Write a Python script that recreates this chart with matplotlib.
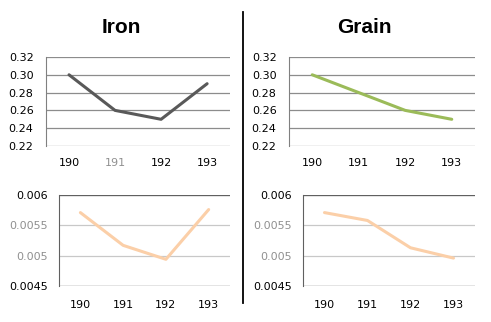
import matplotlib
matplotlib.use("Agg")
import matplotlib.pyplot as plt
from matplotlib.lines import Line2D

years = ["190", "191", "192", "193"]

iron_top = [0.30, 0.26, 0.25, 0.29]
grain_top = [0.30, 0.28, 0.26, 0.25]
iron_bottom = [0.00571, 0.00517, 0.00494, 0.00576]
grain_bottom = [0.00571, 0.00558, 0.00513, 0.00496]

top_ticks = [0.22, 0.24, 0.26, 0.28, 0.30, 0.32]
top_labels = ["0.22", "0.24", "0.26", "0.28", "0.30", "0.32"]
bottom_ticks = [0.0045, 0.005, 0.0055, 0.006]
bottom_labels = ["0.0045", "0.005", "0.0055", "0.006"]
bottom_label_colors = ["black", "#909090", "#909090", "black"]

fig = plt.figure(figsize=(4.91, 3.22), dpi=100)
fig.patch.set_facecolor("white")


def style_axes(ax, ticks, labels, grid_color, xpad, ypad):
    x = range(len(years))
    ax.set_xlim(-0.5, len(years) - 0.5)
    ax.set_ylim(ticks[0], ticks[-1])
    ax.set_xticks(list(x))
    ax.set_xticklabels(years, fontsize=8)
    ax.set_yticks(ticks)
    ax.set_yticklabels(labels, fontsize=8)
    ax.tick_params(axis="both", length=0)
    ax.tick_params(axis="x", pad=xpad)
    ax.tick_params(axis="y", pad=ypad)
    for s in ["top", "right", "bottom"]:
        ax.spines[s].set_visible(False)
    ax.spines["left"].set_color("#808080")
    for t in ticks:
        ax.axhline(t, color=grid_color, lw=0.9, zorder=0)


# top row
ax1 = fig.add_axes([0.0937, 0.5466, 0.375, 0.2764])
ax1.plot(range(len(years)), iron_top, color="#595959", lw=2.2, solid_capstyle="round")
style_axes(ax1, top_ticks, top_labels, "#8c8c8c", 9, 9)
ax1.get_xticklabels()[1].set_color("#909090")

ax2 = fig.add_axes([0.5886, 0.5466, 0.3788, 0.2764])
ax2.plot(range(len(years)), grain_top, color="#9bbb59", lw=2.2, solid_capstyle="round")
style_axes(ax2, top_ticks, top_labels, "#8c8c8c", 9, 9)

# bottom row
ax3 = fig.add_axes([0.1202, 0.1118, 0.3483, 0.2826])
ax3.plot(range(len(years)), iron_bottom, color="#fbcfa8", lw=2.2, solid_capstyle="round")
style_axes(ax3, bottom_ticks, bottom_labels, "#c8c8c8", 10, 8)

ax4 = fig.add_axes([0.6171, 0.1118, 0.3503, 0.2826])
ax4.plot(range(len(years)), grain_bottom, color="#fbcfa8", lw=2.2, solid_capstyle="round")
style_axes(ax4, bottom_ticks, bottom_labels, "#c8c8c8", 10, 8)

for ax in (ax3, ax4):
    ax.spines["left"].set_color("#606060")
    ax.axhline(bottom_ticks[0], color="#606060", lw=0.9, zorder=0)
    ax.axhline(bottom_ticks[-1], color="#606060", lw=0.9, zorder=0)
    for lab, c in zip(ax.get_yticklabels(), bottom_label_colors):
        lab.set_color(c)

fig.text(0.248, 0.916, "Iron", ha="center", va="center", fontsize=15,
         fontweight="bold", family="Liberation Sans")
fig.text(0.743, 0.916, "Grain", ha="center", va="center", fontsize=15,
         fontweight="bold", family="Liberation Sans")

fig.add_artist(Line2D([0.495, 0.495], [0.059, 0.963], color="black", lw=1.3,
                      transform=fig.transFigure))

fig.savefig("out.png", dpi=100)
